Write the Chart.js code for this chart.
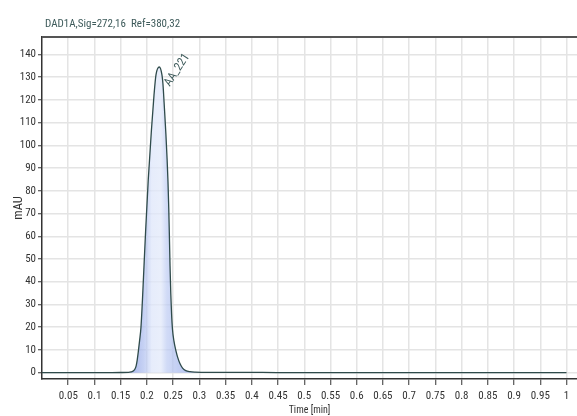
<!DOCTYPE html>
<html>
<head>
<meta charset="utf-8">
<script src="https://cdn.jsdelivr.net/npm/chart.js@4.4.1/dist/chart.umd.min.js"></script>
<style>
  html, body { margin: 0; padding: 0; background: #ffffff; }
  #wrap { width: 577px; height: 416px; position: relative; }
</style>
</head>
<body>
<div id="wrap"><canvas id="chrom"></canvas></div>
<script>
// Detector trace: retention time (min) against absorbance (mAU)
const signalTitle = 'DAD1A,Sig=272,16  Ref=380,32';
const peakName = 'AA_221';
const peakTime = 0.2236;
const peakHeight = 134.5;

const times = [
  0, 0.1, 0.15, 0.165, 0.170, 0.174, 0.177, 0.1795, 0.1815, 0.1835, 0.186,
  0.1887, 0.1915, 0.1935, 0.1975, 0.2026, 0.2087, 0.2135, 0.2173, peakTime,
  0.2287, 0.2306, 0.2335, 0.2362, 0.2385, 0.2402, 0.2417, 0.2429, 0.2441,
  0.2455, 0.247, 0.2488, 0.2515, 0.2555, 0.259, 0.263, 0.268, 0.274, 0.282,
  0.292, 0.32, 0.35, 0.42, 0.5, 1
];
const signal = [
  0, 0, 0.05, 0.1, 0.3, 0.7, 1.5, 3, 5.5, 9, 14,
  20, 32, 42, 62, 85, 107, 122, 131, peakHeight,
  131, 127, 116, 105, 94, 84, 72, 60, 47,
  35, 26, 19, 14, 9.5, 6.5, 4, 2, 0.9, 0.4,
  0.2, 0.1, 0.15, 0.08, 0, 0
];

const xTicks = [0.05, 0.1, 0.15, 0.2, 0.25, 0.3, 0.35, 0.4, 0.45, 0.5, 0.55,
                0.6, 0.65, 0.7, 0.75, 0.8, 0.85, 0.9, 0.95, 1];
const yTicks = [0, 10, 20, 30, 40, 50, 60, 70, 80, 90, 100, 110, 120, 130, 140];

const FONT = "'Roboto Condensed', 'Liberation Sans Narrow', 'Arial Narrow', sans-serif";
const TEXT_COLOR = '#3d5a5a';

const points = times.map((t, i) => ({ x: t, y: signal[i] }));

// light blue shading under the peak, paler through its middle
function peakFill(ctx) {
  const chart = ctx.chart;
  const xs = chart.scales.x;
  if (!xs || !chart.chartArea) return 'rgba(170,185,235,0.6)';
  const x0 = xs.getPixelForValue(0.176);
  const x1 = xs.getPixelForValue(0.277);
  const g = chart.ctx.createLinearGradient(x0, 0, x1, 0);
  g.addColorStop(0.00, 'rgba(150,168,232,0.75)');
  g.addColorStop(0.20, 'rgba(178,194,240,0.70)');
  g.addColorStop(0.33, 'rgba(222,230,250,0.75)');
  g.addColorStop(0.50, 'rgba(226,233,250,0.75)');
  g.addColorStop(0.62, 'rgba(190,204,243,0.72)');
  g.addColorStop(1.00, 'rgba(160,178,235,0.75)');
  return g;
}

const decorations = {
  id: 'decorations',
  afterDraw(chart) {
    const { ctx, chartArea, scales } = chart;
    ctx.save();
    // frame line along the top of the plot
    ctx.strokeStyle = '#555555';
    ctx.lineWidth = 2;
    ctx.beginPath();
    ctx.moveTo(chartArea.left, chartArea.top);
    ctx.lineTo(chartArea.right, chartArea.top);
    ctx.stroke();

    // signal description
    ctx.fillStyle = TEXT_COLOR;
    ctx.font = '11px ' + FONT;
    ctx.textAlign = 'left';
    ctx.textBaseline = 'alphabetic';
    ctx.fillText(signalTitle, 45, 26.5);

    // peak annotation, slanted next to the apex
    const px = scales.x.getPixelForValue(peakTime) + 10.5;
    const py = scales.y.getPixelForValue(peakHeight) + 20;
    ctx.translate(px, py);
    ctx.rotate(-57 * Math.PI / 180);
    ctx.font = '12px ' + FONT;
    ctx.fillText(peakName, 0, 0);
    ctx.restore();
  }
};

new Chart(document.getElementById('chrom'), {
  type: 'line',
  data: {
    datasets: [{
      data: points,
      borderColor: '#2f4b4b',
      borderWidth: 1.3,
      backgroundColor: peakFill,
      fill: 'origin',
      pointRadius: 0,
      cubicInterpolationMode: 'monotone'
    }]
  },
  options: {
    responsive: true,
    maintainAspectRatio: false,
    animation: false,
    devicePixelRatio: 1,
    layout: { padding: { top: 37, left: 0, right: 0, bottom: 0 } },
    plugins: {
      legend: { display: false },
      tooltip: { enabled: false }
    },
    scales: {
      x: {
        type: 'linear',
        min: 0,
        max: 1.02,
        afterBuildTicks(scale) { scale.ticks = xTicks.map(v => ({ value: v })); },
        afterFit(scale) { scale.height = 37; },
        ticks: {
          autoSkip: false,
          maxRotation: 0,
          padding: 5,
          color: '#333333',
          font: { family: FONT, size: 11 },
          callback: v => String(Number(v.toFixed(2)))
        },
        grid: {
          color: '#e4e4e4',
          lineWidth: 1.5,
          tickLength: 6,
          tickColor: '#333333',
          tickWidth: 1
        },
        border: { color: '#333333', width: 1.5 },
        title: {
          display: true,
          text: 'Time [min]',
          color: '#333333',
          font: { family: FONT, size: 10 },
          padding: { top: 2, bottom: 0 }
        }
      },
      y: {
        type: 'linear',
        min: -2.8,
        max: 147.7,
        afterBuildTicks(scale) { scale.ticks = yTicks.map(v => ({ value: v })); },
        afterFit(scale) { scale.width = 42; },
        ticks: {
          autoSkip: false,
          padding: 2,
          color: '#333333',
          font: { family: FONT, size: 11 }
        },
        grid: {
          color: '#e4e4e4',
          lineWidth: 1.5,
          tickLength: 4,
          tickColor: '#333333',
          tickWidth: 1
        },
        border: { color: '#333333', width: 1.5 },
        title: {
          display: true,
          text: 'mAU',
          color: '#333333',
          font: { family: FONT, size: 12.5 },
          padding: { top: 11, bottom: 0 }
        }
      }
    }
  },
  plugins: [decorations]
});
</script>
</body>
</html>
